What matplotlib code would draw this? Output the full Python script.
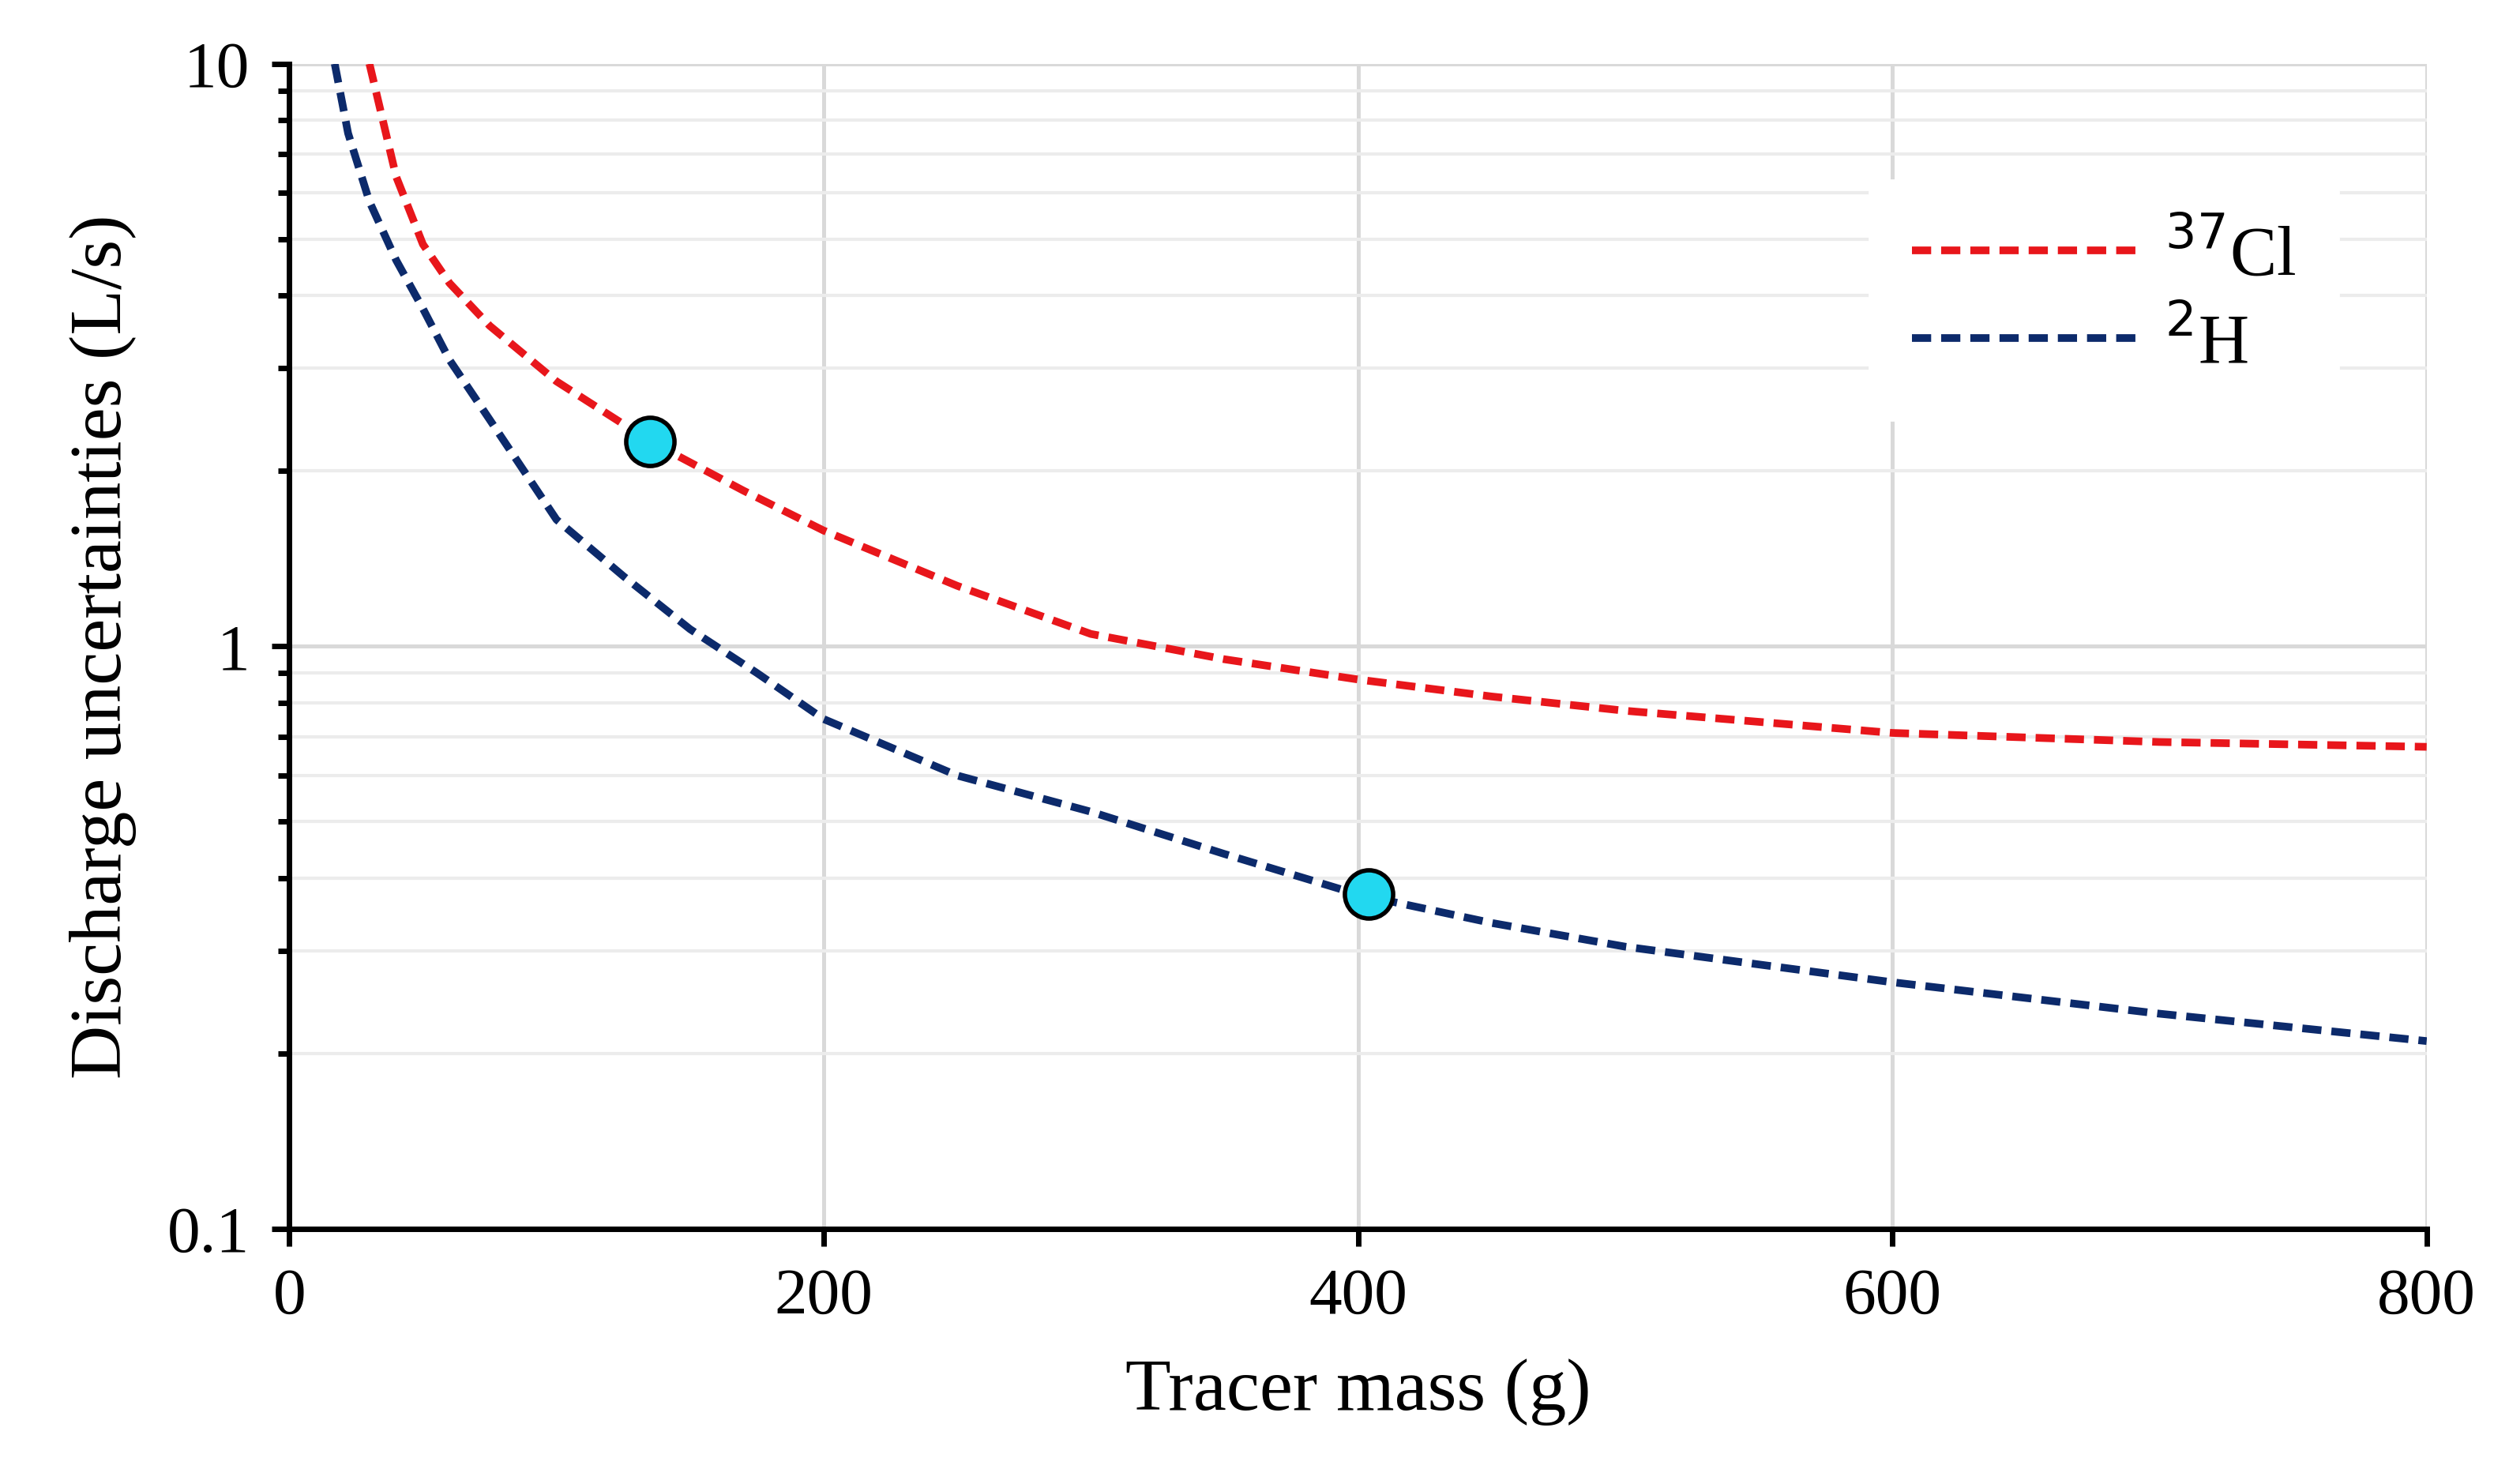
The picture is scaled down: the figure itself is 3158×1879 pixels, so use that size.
import matplotlib.pyplot as plt
from matplotlib.ticker import FixedLocator, NullFormatter

plt.rcParams['font.family'] = ['Liberation Serif', 'DejaVu Serif']

# values
cl_mass = [30, 40, 50, 60, 75, 100, 135, 170, 200, 250, 300, 350, 400, 450, 500, 600, 700, 800]
cl_unc = [10.0, 6.4, 4.9, 4.2, 3.55, 2.85, 2.25, 1.85, 1.58, 1.27, 1.05, 0.95, 0.877, 0.82, 0.775, 0.71, 0.685, 0.672]
h_mass = [17, 22, 30, 40, 50, 60, 75, 100, 125, 150, 175, 200, 250, 300, 350, 400, 450, 500, 600, 700, 800]
h_unc = [10.0, 7.6, 5.8, 4.6, 3.8, 3.1, 2.45, 1.65, 1.32, 1.07, 0.9, 0.75, 0.6, 0.52, 0.44, 0.375, 0.335, 0.305, 0.265, 0.234, 0.21]
pt_mass = [135, 404]
pt_unc = [2.25, 0.375]

fig, ax = plt.subplots(figsize=(15.79, 9.395), dpi=200)
fig.subplots_adjust(left=0.116, right=0.973, top=0.957, bottom=0.172)

ax.set_yscale('log')
ax.set_xlim(0, 800)
ax.set_ylim(0.1, 10)
ax.yaxis.set_minor_locator(FixedLocator([m * 10.0**e for e in (-1, 0) for m in range(2, 10)]))
ax.yaxis.set_minor_formatter(NullFormatter())
ax.set_yticks([0.1, 1, 10])
ax.set_yticklabels(['0.1', '1', '10'])
ax.set_xticks([0, 200, 400, 600, 800])
ax.grid(True, which='major', color='#d9d9d9', lw=1.8)
ax.grid(True, which='minor', axis='y', color='#ececec', lw=1.5)
ax.set_axisbelow(True)

ax.plot(cl_mass, cl_unc, '--', color='#e8161b', lw=3.5, dashes=(2.5, 1.3), label='$^{37}$Cl')
ax.plot(h_mass, h_unc, '--', color='#0c2a6b', lw=3.5, dashes=(2.5, 1.3), label='$^{2}$H')
ax.plot(pt_mass, pt_unc, 'o', ms=22, mfc='#22d8f0', mec='black', mew=2, zorder=5)

for s in ['top', 'right']:
    ax.spines[s].set_visible(False)
for s in ['left', 'bottom']:
    ax.spines[s].set_linewidth(2.5)
ax.tick_params(which='both', direction='out', width=2.5, labelsize=30)
ax.tick_params(which='major', length=8, pad=10)
ax.tick_params(which='minor', length=5)

ax.set_xlabel('Tracer mass (g)', fontsize=34, labelpad=14)
ax.set_ylabel('Discharge uncertainties (L/s)', fontsize=34, labelpad=14)
leg = ax.legend(loc='upper right', bbox_to_anchor=(0.975, 0.93), fontsize=32,
                frameon=True, fancybox=False, edgecolor='white', framealpha=1,
                handlelength=3.2, borderpad=0.6, labelspacing=0.3, handletextpad=0.4)
plt.savefig('out.png', dpi=200)
